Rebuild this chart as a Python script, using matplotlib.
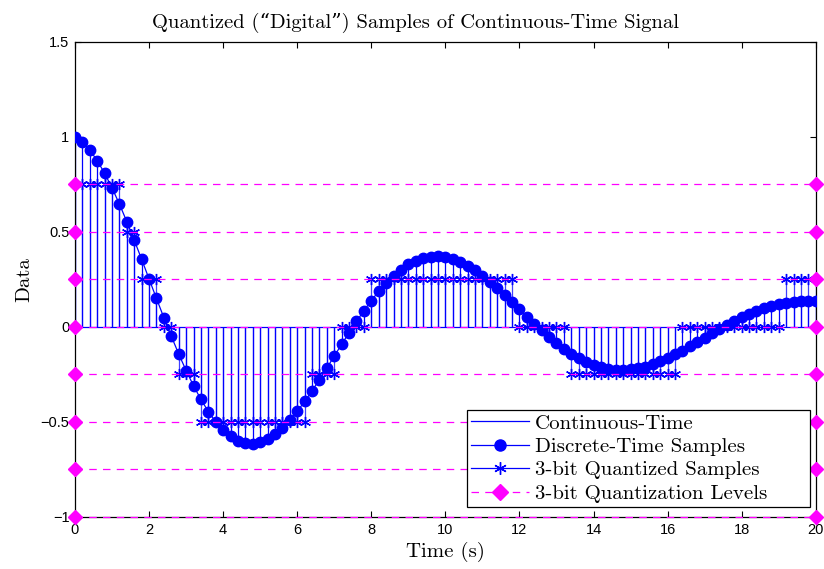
import matplotlib
matplotlib.use("Agg")
import matplotlib.pyplot as plt
from matplotlib.lines import Line2D

# sample times (s), step 0.2
t = [round(0.2 * k, 1) for k in range(101)]

# signal samples
x = [1.000, 0.972, 0.931, 0.876, 0.809, 0.732, 0.647, 0.554, 0.457, 0.356,
     0.253, 0.150, 0.049, -0.048, -0.142, -0.229, -0.309, -0.381, -0.445, -0.499,
     -0.542, -0.576, -0.599, -0.611, -0.614, -0.607, -0.590, -0.564, -0.531, -0.491,
     -0.444, -0.392, -0.336, -0.277, -0.216, -0.153, -0.091, -0.030, 0.029, 0.086,
     0.139, 0.188, 0.231, 0.270, 0.302, 0.329, 0.349, 0.363, 0.371, 0.372,
     0.368, 0.358, 0.342, 0.322, 0.298, 0.269, 0.238, 0.204, 0.168, 0.131,
     0.093, 0.055, 0.018, -0.018, -0.052, -0.084, -0.114, -0.140, -0.164, -0.183,
     -0.200, -0.212, -0.220, -0.225, -0.226, -0.223, -0.217, -0.208, -0.195, -0.180,
     -0.163, -0.144, -0.124, -0.102, -0.079, -0.056, -0.034, -0.011, 0.011, 0.032,
     0.051, 0.069, 0.085, 0.099, 0.111, 0.121, 0.128, 0.134, 0.136, 0.137,
     0.135]

# 3-bit quantized samples
xq = [0.75, 0.75, 0.75, 0.75, 0.75, 0.75, 0.75, 0.5, 0.5, 0.25,
      0.25, 0.25, 0, 0, -0.25, -0.25, -0.25, -0.5, -0.5, -0.5,
      -0.5, -0.5, -0.5, -0.5, -0.5, -0.5, -0.5, -0.5, -0.5, -0.5,
      -0.5, -0.5, -0.25, -0.25, -0.25, -0.25, 0, 0, 0, 0,
      0.25, 0.25, 0.25, 0.25, 0.25, 0.25, 0.25, 0.25, 0.25, 0.25,
      0.25, 0.25, 0.25, 0.25, 0.25, 0.25, 0.25, 0.25, 0.25, 0.25,
      0, 0, 0, 0, 0, 0, 0, -0.25, -0.25, -0.25,
      -0.25, -0.25, -0.25, -0.25, -0.25, -0.25, -0.25, -0.25, -0.25, -0.25,
      -0.25, -0.25, 0, 0, 0, 0, 0, 0, 0, 0,
      0, 0, 0, 0, 0, 0, 0.25, 0.25, 0.25, 0.25,
      0.25]

levels = [-1, -0.75, -0.5, -0.25, 0, 0.25, 0.5, 0.75]

xticks = [0, 2, 4, 6, 8, 10, 12, 14, 16, 18, 20]
yticks = [-1, -0.5, 0, 0.5, 1, 1.5]
ylabels = ["\u22121", "\u22120.5", "0", "0.5", "1", "1.5"]

serif = ["cmr10", "DejaVu Serif"]
BLUE = "#0000ff"
MAG = "#ff00ff"

fig = plt.figure(figsize=(8.24, 5.69), dpi=100)
ax = fig.add_axes([0.091, 0.0914, 0.899, 0.8348])

# continuous-time curve
ax.plot(t, x, color=BLUE, lw=0.9, zorder=2)

# discrete-time stems
ax.vlines(t, 0, x, color=BLUE, lw=0.9, zorder=2)
ax.plot(t, x, ls="none", marker="o", ms=7.5, color=BLUE, zorder=4)

# quantized stems + baseline
ax.vlines(t, 0, xq, color=BLUE, lw=0.9, alpha=0.75, zorder=2)
ax.plot([0, 20], [0, 0], color=BLUE, lw=0.9, zorder=2)
ax.plot(t, xq, ls="none", marker=(6, 2, 0), ms=8, mew=1.0, color=BLUE, zorder=3)

# quantization levels
for lv in levels:
    ax.plot([0, 20], [lv, lv], color=MAG, lw=0.9, ls=(0, (6, 5)), marker="D",
            ms=7, mec=MAG, mfc=MAG, clip_on=False, zorder=5)

ax.set_xlim(0, 20)
ax.set_ylim(-1, 1.5)
ax.set_xticks(xticks)
ax.set_xticklabels([str(v) for v in xticks])
ax.set_yticks(yticks)
ax.set_yticklabels(ylabels)
ax.tick_params(direction="in", top=True, right=True, length=4.5, width=0.8,
               labelsize=10.5, pad=4)
for lab in ax.get_xticklabels() + ax.get_yticklabels():
    lab.set_family("Liberation Sans")
for s in ax.spines.values():
    s.set_linewidth(0.9)

ax.set_title("Quantized (\u201cDigital\u201d) Samples of Continuous-Time Signal",
             family=serif, fontsize=14.8, pad=10, x=0.46)
ax.set_xlabel("Time (s)", family=serif, fontsize=15, labelpad=4)
ax.set_ylabel("Data", family=serif, fontsize=15, labelpad=5)

handles = [
    Line2D([], [], color=BLUE, lw=0.9),
    Line2D([], [], color=BLUE, lw=0.9, marker="o", ms=8, markevery=[1]),
    Line2D([], [], color=BLUE, lw=0.9, marker=(6, 2, 0), ms=9, markevery=[1]),
    Line2D([], [], color=MAG, lw=0.9, ls=(0, (6, 5)), marker="D", ms=8, markevery=[1]),
]
names = ["Continuous-Time", "Discrete-Time Samples",
         "3-bit Quantized Samples", "3-bit Quantization Levels"]
leg = ax.legend(handles, names, loc="lower left",
                bbox_to_anchor=(0.529, 0.021, 0.463, 0.2), mode="expand",
                borderaxespad=0, fancybox=False, framealpha=1, edgecolor="black",
                prop={"family": serif, "size": 15}, handlelength=2.8,
                handletextpad=0.25, labelspacing=0.23, borderpad=0.2)
leg.get_frame().set_linewidth(0.9)
leg.set_zorder(10)

fig.savefig("out.png", dpi=100)
